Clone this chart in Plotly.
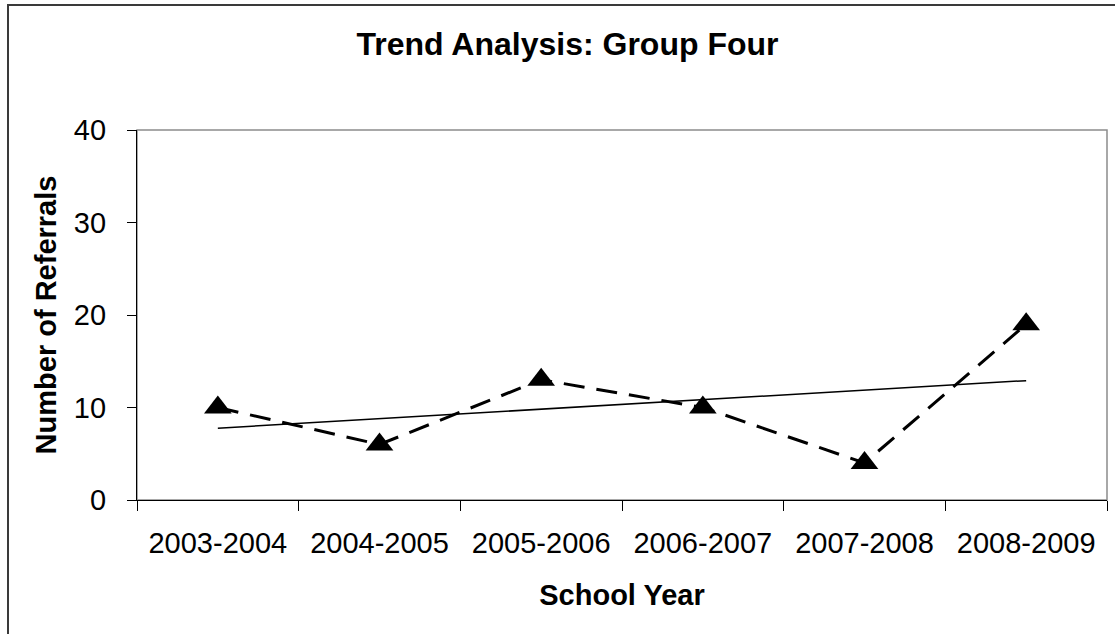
import numpy as np
import plotly.graph_objects as go

# Referral counts per school year
school_years = ["2003-2004", "2004-2005", "2005-2006", "2006-2007", "2007-2008", "2008-2009"]
referrals = [10, 6, 13, 10, 4, 19]
y_ticks = [0, 10, 20, 30, 40]

# Linear trend fitted to the referral counts
idx = np.arange(len(referrals))
slope, intercept = np.polyfit(idx, referrals, 1)
trend = slope * idx + intercept

W, H = 1115, 634
ML, MR, MT, MB = 137, 8, 130, 134
PW, PH = W - ML - MR, H - MT - MB

def px_x(px):
    return (px - ML) / PW

def px_y(py):
    return (H - MB - py) / PH

FONT = "Liberation Sans, Arial, sans-serif"

fig = go.Figure()

fig.add_trace(go.Scatter(
    x=school_years, y=trend, mode="lines",
    line=dict(color="black", width=1.5),
    hoverinfo="skip", showlegend=False,
))
fig.add_trace(go.Scatter(
    x=school_years, y=referrals, mode="lines+markers",
    line=dict(color="black", width=3, dash="21px,12px"),
    marker=dict(symbol="triangle-up", size=24, color="black"),
    showlegend=False,
))

# plot-area frame (grey) and outer chart border
fig.add_shape(type="rect", xref="paper", yref="paper", x0=0, x1=1, y0=0, y1=1,
              line=dict(color="#8c8c8c", width=1.5), layer="below")
fig.add_shape(type="rect", xref="paper", yref="paper",
              x0=px_x(8), x1=px_x(1140), y0=px_y(660), y1=px_y(5),
              line=dict(color="#3a3a3a", width=2))

fig.update_layout(
    width=W, height=H,
    margin=dict(l=ML, r=MR, t=MT, b=MB),
    paper_bgcolor="white", plot_bgcolor="white",
    font=dict(family=FONT, color="black", size=29),
    title=dict(
        text="Trend Analysis: Group Four",
        font=dict(family=FONT, size=32, weight="bold", color="black"),
        xref="container", yref="container",
        x=567.5 / W, xanchor="center",
        y=1 - 44 / H, yanchor="middle",
    ),
    xaxis=dict(
        type="category", range=[-0.5, 5.5],
        tickson="boundaries", ticks="outside", ticklen=10, tickwidth=1.3, tickcolor="black",
        showline=True, linecolor="black", linewidth=1.3,
        showgrid=False, zeroline=False,
        tickfont=dict(family=FONT, size=29),
        ticklabelstandoff=17,
        title=dict(text="School Year", font=dict(family=FONT, size=29, weight="bold"), standoff=26),
    ),
    yaxis=dict(
        range=[0, 40], tickvals=y_ticks,
        ticks="outside", ticklen=9, tickwidth=1.3, tickcolor="black",
        showline=True, linecolor="black", linewidth=1.3,
        showgrid=False, zeroline=False,
        tickfont=dict(family=FONT, size=29),
        ticklabelstandoff=15,
        title=dict(text="Number of Referrals", font=dict(family=FONT, size=29, weight="bold"), standoff=8),
    ),
)

fig.write_html("out.html")
